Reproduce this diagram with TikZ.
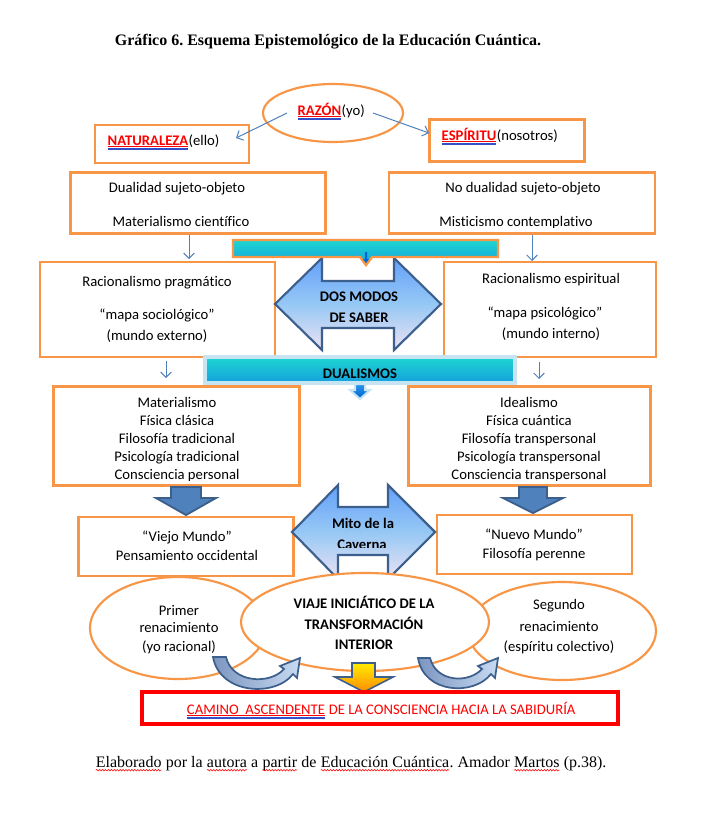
\documentclass[tikz,border=0pt]{standalone}
\usepackage{fontspec}
\setmainfont{Carlito}[Ligatures=NoCommon]
\newfontfamily\timesf{Liberation Serif}
\usetikzlibrary{arrows.meta,shapes.geometric,decorations.pathmorphing}
\frenchspacing
\definecolor{org}{RGB}{247,150,70}
\definecolor{lblue}{RGB}{79,129,189}
\definecolor{dblue}{RGB}{60,95,140}
\definecolor{tealtop}{RGB}{30,214,208}
\definecolor{tealbot}{RGB}{20,160,222}
\definecolor{arrtop}{RGB}{100,160,250}
\definecolor{arrmid}{RGB}{150,200,245}
\definecolor{arrbot}{RGB}{236,226,243}
\definecolor{redc}{RGB}{255,0,0}
\definecolor{ulblue}{RGB}{50,80,200}
\definecolor{glow}{RGB}{198,228,242}
\definecolor{cvdark}{RGB}{125,150,192}
\definecolor{cvlight}{RGB}{200,218,242}
\definecolor{yel}{RGB}{255,236,0}
\definecolor{orn}{RGB}{255,140,0}
\definecolor{smallbl}{RGB}{0,100,210}
\def\px{0.75pt}
\newcommand\redul[1]{\tikz[baseline=(U.base)]{\node[inner sep=0pt,outer sep=0pt,anchor=base](U){#1};
 \draw[redc,line width=0.7pt] ([yshift=-1.3pt]U.base west) -- ([yshift=-1.3pt]U.base east);
 \draw[ulblue,line width=0.35pt] ([yshift=-2.6pt]U.base west) -- ([yshift=-2.6pt]U.base east);
 \draw[ulblue,line width=0.35pt] ([yshift=-3.5pt]U.base west) -- ([yshift=-3.5pt]U.base east);}}
\newcommand\squig[1]{\tikz[baseline=(S.base)]{\node[inner sep=0pt,outer sep=0pt,anchor=base](S){#1};
 \draw[redc,line width=0.4pt,decorate,decoration={snake,amplitude=0.6pt,segment length=2.2pt}] ([yshift=-2.4pt]S.base west) -- ([yshift=-2.4pt]S.base east);}}
\begin{document}
\begin{tikzpicture}[x=0.75pt,y=-0.75pt,
  txt/.style={font=\fontsize{11pt}{13pt}\selectfont, inner sep=0pt, anchor=base},
  btxt/.style={font=\fontsize{11pt}{13pt}\selectfont\bfseries, inner sep=0pt, anchor=base},
  obox/.style n args={2}{draw=org, line width=1.9pt, fill=white, inner sep=0pt, minimum width=#1*\px, minimum height=#2*\px},
  oell/.style n args={2}{ellipse, draw=org, line width=1.6pt, fill=white, inner sep=0pt, minimum width=#1*\px, minimum height=#2*\px},
  tarrow/.style={draw=lblue, line width=0.75pt, -{Straight Barb[length=4pt,width=8pt]}},
  dblarrow/.style={draw=dblue, line width=1.6pt, line join=miter, top color=arrtop, bottom color=arrbot, middle color=arrmid},
  bigdown/.style={draw=dblue, line width=1.4pt, fill=lblue},
  curvarrow/.style={draw=dblue, line width=1.3pt, left color=cvdark, right color=cvlight},
]
\useasboundingbox (0,0) rectangle (708,814);
\fill[white] (0,0) rectangle (708,814);

% title
\node[txt, font=\timesf\bfseries\fontsize{12pt}{14pt}\selectfont] (title) at (328,45) {Gráfico 6. Esquema Epistemológico de la Educación Cuántica.};

% top level
\node[oell={140}{58}] (raz) at (333,113) {};
\node[txt] (raztxt) at (331,115) {\redul{\textcolor{redc}{\textbf{RAZÓN}}}(yo)};
\node[obox={154}{38}] (nat) at (172,144) {};
\node[txt, anchor=base west] (nattxt) at (107,145) {\redul{\textcolor{redc}{\textbf{NATURALEZA}}}(ello)};
\node[obox={155}{42}] (esp) at (507,140.5) {};
\node[txt, anchor=base west] (esptxt) at (441,140) {\redul{\textcolor{redc}{\textbf{ESPÍRITU}}}(nosotros)};
\coordinate (r1s) at (287,113); \coordinate (r1e) at (236,138);
\coordinate (r2s) at (373,113); \coordinate (r2e) at (429,133);
\draw[tarrow] (r1s) -- (r1e);
\draw[tarrow] (r2s) -- (r2e);

% second level
\node[obox={255}{61}] (dual) at (198,203) {};
\node[txt] (dual1) at (177,192) {Dualidad sujeto-objeto};
\node[txt] (dual2) at (181,226) {Materialismo científico};
\node[obox={266}{61}] (ndual) at (522,203) {};
\node[txt] (ndual1) at (523,192) {No dualidad sujeto-objeto};
\begin{scope}
\clip (395,200) rectangle (650,227.5);
\node[txt] (ndual2) at (516,226) {Misticismo contemplativo};
\end{scope}
\coordinate (d1s) at (189,235); \coordinate (d1e) at (189,259);
\coordinate (d2s) at (532,235); \coordinate (d2e) at (532,261);
\draw[tarrow] (d1s) -- (d1e);
\draw[tarrow] (d2s) -- (d2e);

% third level
\node[obox={235}{95}] (rprag) at (157.5,309.5) {};
\node[txt] (rp1) at (157,286) {Racionalismo pragmático};
\node[txt] (rp2) at (157,319) {“mapa sociológico”};
\node[txt] (rp3) at (157,340) {(mundo externo)};
\node[obox={212}{95}] (resp) at (550,309.5) {};
\node[txt] (re1) at (551,283) {Racionalismo espiritual};
\node[txt] (re2) at (545,317) {“mapa psicológico”};
\node[txt] (re3) at (551,338) {(mundo interno)};

% DOS MODOS arrow
\draw[dblarrow] (275,304) -- (322,258) -- (322,281) -- (394,281) -- (394,258) -- (441,304) -- (394,350) -- (394,328) -- (322,328) -- (322,350) -- cycle;
\node[btxt] (dos1) at (359,301) {DOS MODOS};
\node[btxt] (dos2) at (359,322) {DE SABER};

% teal bar 1
\draw[draw=org, line width=1.8pt, line join=miter, top color=tealtop, bottom color=tealbot] (233,240) -- (498,240) -- (498,257) -- (372,257) -- (366,265) -- (360,257) -- (233,257) -- cycle;
\fill[smallbl] (365,252) -- (367,252) -- (367,259) -- (369,259) -- (366,263) -- (363,259) -- (365,259) -- cycle;

\coordinate (e1s) at (166,361); \coordinate (e1e) at (166,378);
\coordinate (e2s) at (539,362); \coordinate (e2e) at (539,379);
\draw[tarrow] (e1s) -- (e1e);
\draw[tarrow] (e2s) -- (e2e);

% DUALISMOS bar
\draw[draw=glow, line width=2.4pt, top color=tealtop, bottom color=tealbot] (205,357) rectangle (515,383);
\draw[draw=glow, line width=1.5pt, top color={rgb,255:red,40;green,150;blue,235}, bottom color=smallbl] (355,384) -- (365,384) -- (365,390) -- (370,390) -- (360,399) -- (350,390) -- (355,390) -- cycle;
\node[btxt] (dualismos) at (360,378) {DUALISMOS};

% fourth level
\node[obox={246}{99}] (mat) at (176.5,436) {};
\node[obox={242}{99}] (ide) at (529.5,436) {};
\begin{scope}
\clip (56,390) rectangle (296,480);
\node[txt] (m1) at (177,407) {Materialismo};
\node[txt] (m2) at (177,425) {Física clásica};
\node[txt] (m3) at (177,443) {Filosofía tradicional};
\node[txt] (m4) at (177,461) {Psicología tradicional};
\node[txt] (m5) at (177,479) {Consciencia personal};
\end{scope}
\begin{scope}
\clip (411,390) rectangle (647,480);
\node[txt] (i1) at (529,407) {Idealismo};
\node[txt] (i2) at (529,425) {Física cuántica};
\node[txt] (i3) at (529,443) {Filosofía transpersonal};
\node[txt] (i4) at (529,461) {Psicología transpersonal};
\node[txt] (i5) at (529,479) {Consciencia transpersonal};
\end{scope}

% big blue down arrows
\draw[bigdown] (171,487) -- (201,487) -- (201,498) -- (216,498) -- (186,515) -- (156,498) -- (171,498) -- cycle;
\draw[bigdown] (519,487) -- (547,487) -- (547,498) -- (563,498) -- (533,513) -- (503,498) -- (519,498) -- cycle;

% fifth level
\node[obox={215}{59}] (viejo) at (186,546.5) {};
\node[txt] (v1) at (187,541) {“Viejo Mundo”};
\node[txt] (v2) at (187,560) {Pensamiento occidental};
\node[obox={195}{59}] (nuevo) at (534.5,544.5) {};
\node[txt] (n1) at (534,539) {“Nuevo Mundo”};
\node[txt] (n2) at (534,558) {Filosofía perenne};

% Mito arrow
\draw[dblarrow] (292,532) -- (338,485) -- (338,507) -- (388,507) -- (388,485) -- (435,532) -- (388,579) -- (388,555) -- (338,555) -- (338,579) -- cycle;
\begin{scope}
\clip (300,505) rectangle (430,547.5);
\node[btxt] (mito1) at (363,528) {Mito de la};
\node[btxt] (mito2) at (362,549) {Caverna};
\end{scope}

% bottom ellipses
\node[oell={176}{102}] (primer) at (178,628) {};
\node[oell={188}{98}] (segundo) at (562,631) {};
\node[oell={248}{98}] (viaje) at (365,622) {};
\node[txt] (p1) at (179,615) {Primer};
\node[txt] (p2) at (179,632) {renacimiento};
\node[txt] (p3) at (179,651) {(yo racional)};
\node[btxt] (vi1) at (364,608) {VIAJE INICIÁTICO DE LA};
\node[btxt] (vi2) at (364,629) {TRANSFORMACIÓN};
\node[btxt] (vi3) at (364,649) {INTERIOR};
\node[txt] (s1) at (559,609) {Segundo};
\node[txt] (s2) at (559,631) {renacimiento};
\node[txt] (s3) at (559,651) {(espíritu colectivo)};

% curved arrows
\draw[curvarrow, line join=miter] (213,657) -- (226,657) .. controls (232,683) and (270,685) .. (284,669) -- (280,666) -- (300,658) -- (297,678) -- (293,674) .. controls (276,697) and (220,695) .. (213,657) -- cycle;
\draw[curvarrow, line join=miter] (418,658) -- (430,658) .. controls (436,682) and (468,684) .. (482,669) -- (478,666) -- (498,658) -- (495,678) -- (491,674) .. controls (474,696) and (424,694) .. (418,658) -- cycle;

% orange arrow
\draw[draw=dblue, line width=1.2pt, top color=yel, bottom color=orn] (352,663) -- (375,663) -- (375,677) -- (393,677) -- (364,692) -- (335,677) -- (352,677) -- cycle;

% camino box
\node[draw=redc, line width=2.3pt, fill=white, inner sep=0pt, minimum width=476*\px, minimum height=32*\px] (camino) at (380,708) {};
\node[txt, text=redc] (camtxt) at (381,714) {\redul{CAMINO\ \ ASCENDENTE} DE LA CONSCIENCIA HACIA LA SABIDURÍA};

% caption
\node[txt, font=\timesf\fontsize{12pt}{14pt}\selectfont] (caption) at (351,767) {\squig{Elaborado} por la \squig{autora} a \squig{partir} de \squig{Educación Cuántica}. Amador \squig{Martos} (p.38).};
\end{tikzpicture}
\end{document}
